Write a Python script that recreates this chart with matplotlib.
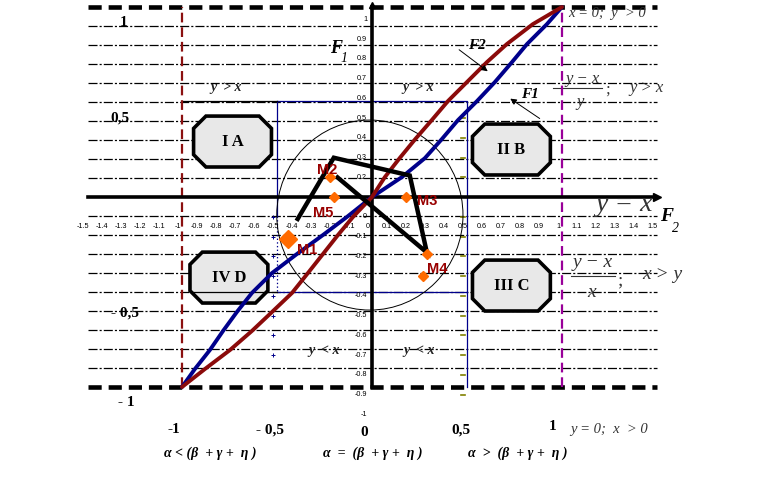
import matplotlib.pyplot as plt
from matplotlib.patches import Polygon, Ellipse

# ---- data (main scale: -1..1 between the dashed frames)
f1_x = [-1.0, -0.932, -0.853, -0.784, -0.711, -0.632, -0.526, -0.395, -0.258, -0.132, 0.0,
        0.158, 0.279, 0.368, 0.453, 0.553, 0.647, 0.737, 0.816, 0.921, 1.0]
f1_y = [-1.0, -0.905, -0.805, -0.705, -0.605, -0.505, -0.4, -0.3, -0.2, -0.105, 0.0,
        0.105, 0.205, 0.305, 0.405, 0.505, 0.605, 0.71, 0.805, 0.91, 1.0]
f2_x = [-1.0, -0.879, -0.747, -0.632, -0.526, -0.421, -0.337, -0.258, -0.179, -0.1, 0.0,
        0.068, 0.146, 0.228, 0.315, 0.4, 0.5, 0.605, 0.71, 0.847, 1.0]
f2_y = [-1.0, -0.905, -0.805, -0.705, -0.605, -0.505, -0.4, -0.3, -0.2, -0.105, 0.0,
        0.105, 0.205, 0.305, 0.405, 0.505, 0.605, 0.71, 0.805, 0.91, 1.0]

# points and polygon in the inner (tick label) scale
m_names = ["M1", "M2", "M5", "M3", "M4", "M4"]
m_u = [-0.42, -0.2, -0.18, 0.2, 0.31, 0.29]
m_v = [-0.11, 0.2, 0.1, 0.1, -0.19, -0.3]
m_size = [9, 5.5, 5.5, 5.5, 5.5, 5.5]
poly_u = [-0.37, -0.18, 0.22, 0.31, -0.16]
poly_v = [-0.01, 0.3, 0.21, -0.18, 0.2]

grid_levels = [-0.9, -0.8, -0.7, -0.6, -0.5, -0.4, -0.3, -0.2, -0.1,
               0.1, 0.2, 0.3, 0.4, 0.5, 0.6, 0.7, 0.8, 0.9]
xtick_vals = [round(-1.5 + 0.1 * i, 1) for i in range(31)]
ytick_vals = [1, 0.9, 0.8, 0.7, 0.6, 0.5, 0.4, 0.3, 0.2, 0, -0.1, -0.2, -0.3,
              -0.4, -0.5, -0.6, -0.7, -0.8, -0.9, -1]
boxes = [("I A", -0.734, 0.292), ("II B", 0.734, 0.25),
         ("IV D", -0.753, -0.424), ("III C", 0.734, -0.466)]

plt.rcParams['lines.scale_dashes'] = False
SERIF = "Liberation Serif"
SANS = "Liberation Sans"
NAVY = "#00008b"


def inner(u, v):
    # inner scale is shifted/stretched slightly against the main one
    return u - 0.021, 1.0395 * v - 0.105


fig = plt.figure(figsize=(7.58, 4.82), dpi=100)
ax = fig.add_axes([0, 0, 1, 1])
ax.set_xlim(-1.958, 2.032)
ax.set_ylim(-1.5, 1.037)
ax.axis("off")

# grid of dash-dot lines
for g in grid_levels:
    ax.plot([-1.495, 1.5], [g, g], color="black", lw=0.9,
            dashes=(6.5, 1.5, 1.5, 1.5), zorder=1)

# thick dashed frame lines
for yy in [1.0, -1.0]:
    ax.plot([-1.495, 1.5], [yy, yy], color="black", lw=3.3, dashes=(9.5, 5), zorder=3)
ax.plot([-1, -1], [-1, 1], color="#8b1010", lw=1.6, dashes=(7, 3.5), zorder=3)
ax.plot([1, 1], [-1, 1], color="#990099", lw=1.6, dashes=(7, 3.5), zorder=3)

# navy rectangle and solid segments
ax.plot([-0.5, 0.5, 0.5], [0.505, 0.505, -1.0], color=NAVY, lw=0.9, zorder=2)
ax.plot([-0.5, 0.5], [-0.5, -0.5], color=NAVY, lw=0.9, zorder=2)
ax.plot([-0.5, -0.5], [0.505, -0.1], color=NAVY, lw=0.9, zorder=2)
ax.plot([-0.5, -0.5], [-0.1, -0.5], color=NAVY, lw=0.9, ls=":", zorder=2)
ax.plot([-1, -0.5], [0.505, 0.505], color="black", lw=0.9, zorder=2)

# boxes
cut = 0.065
for label, cx, cy in boxes:
    w, h = 0.205, 0.134
    pts = [(cx - w + cut, cy + h), (cx + w - cut, cy + h), (cx + w, cy + h - cut),
           (cx + w, cy - h + cut), (cx + w - cut, cy - h), (cx - w + cut, cy - h),
           (cx - w, cy - h + cut), (cx - w, cy + h - cut)]
    ax.add_patch(Polygon(pts, closed=True, fc="#e8e8e8", ec="black", lw=2.6, zorder=4))
    ax.text(cx, cy, label, ha="center", va="center", fontsize=12,
            fontweight="bold", family=SERIF, zorder=5)
ax.plot([-0.947, -0.5], [-0.5, -0.5], color="black", lw=0.9, zorder=5)

# small marks along the inner +-0.5 verticals
for i in range(15):
    v = 0.5 - 0.1 * i
    xx, yy = inner(0.5, v)
    ax.plot([xx - 0.012, xx + 0.012], [yy, yy], color="#808000", lw=1.2, zorder=2)
for i in range(8):
    v = -0.1 * i
    xx, yy = inner(-0.5, v)
    ax.plot(xx, yy, marker="+", color=NAVY, ms=3, mew=0.7, zorder=2)

# circle
cx0, cy0 = inner(0, 0)
ax.add_patch(Ellipse((cx0 + 0.01, cy0 + 0.01), 0.98, 1.0, fill=False,
                     ec="black", lw=0.7, zorder=2))

# axes
ax.plot([-1.495, 1.49], [0, 0], color="black", lw=2.6, zorder=3)
ax.plot(1.5, 0, marker=">", color="black", ms=6, zorder=3)
ax.plot([0, 0], [-1.0, 1.0], color="black", lw=2.6, zorder=3)
ax.plot(0, 1.01, marker="^", color="black", ms=5, zorder=3)

# tick labels of the inner scale
for v in xtick_vals:
    xx, _ = inner(v, 0)
    ax.text(xx, -0.153, f"{v:g}", ha="center", va="center", fontsize=5.2,
            family=SANS, zorder=6)
for v in ytick_vals:
    _, yy = inner(0, v)
    ax.text(-0.026, yy, f"{v:g}", ha="right", va="center", fontsize=5.2,
            family=SANS, zorder=6)

# curves
ax.plot(f1_x, f1_y, color=NAVY, lw=2.8, solid_capstyle="round",
        solid_joinstyle="round", zorder=6)
ax.plot(f2_x, f2_y, color="#8b0a0a", lw=2.8, solid_capstyle="round",
        solid_joinstyle="round", zorder=6)

# polygon and points
pts_inner = [inner(u, v) for u, v in zip(poly_u, poly_v)]
ax.plot([p[0] for p in pts_inner], [p[1] for p in pts_inner], color="black",
        lw=3.2, solid_joinstyle="miter", zorder=7)
for name, u, v, s in zip(m_names, m_u, m_v, m_size):
    xx, yy = inner(u, v)
    ax.plot(xx, yy, marker="D", color="#ff6a00", ms=s, mec="#ff6a00", zorder=8)
m_text = {"M1": (-0.34, -0.28), "M2": (-0.236, 0.142), "M5": (-0.258, -0.084),
          "M3": (0.29, -0.02), "M4": (0.342, -0.38)}
for name, (tx, ty) in m_text.items():
    ax.text(tx, ty, name, ha="center", va="center", fontsize=10.5,
            fontweight="bold", color="#990000", family=SANS, zorder=9)

# F labels and arrows
ax.text(-0.189, 0.784, "F", fontsize=13, fontweight="bold", style="italic",
        family=SERIF, ha="center", va="center")
ax.text(-0.147, 0.73, "1", fontsize=10, style="italic", family=SERIF,
        ha="center", va="center")
ax.text(0.553, 0.795, "F2", fontsize=11, fontweight="bold", style="italic",
        family=SERIF, ha="center", va="center")
ax.annotate("", xy=(0.621, 0.653), xytext=(0.447, 0.784),
            arrowprops=dict(arrowstyle="-|>", color="black", lw=0.7,
                            mutation_scale=9), zorder=9)
ax.text(0.83, 0.542, "F1", fontsize=11, fontweight="bold", style="italic",
        family=SERIF, ha="center", va="center")
ax.annotate("", xy=(0.716, 0.526), xytext=(0.895, 0.405),
            arrowprops=dict(arrowstyle="-|>", color="black", lw=0.7,
                            mutation_scale=9), zorder=9)

# region captions
for tx, ty, s in [(-0.768, 0.579, "y  > x"), (0.242, 0.579, "y  > x"),
                  (-0.253, -0.81, "y  < x"), (0.247, -0.81, "y  < x")]:
    ax.text(tx, ty, s, fontsize=10, fontweight="bold", style="italic",
            family=SERIF, color="#222222", ha="center", va="center")

# outer labels
for tx, ty, s in [(-1.305, 0.921, "1"), (-1.326, 0.416, "0,5"),
                  (-1.3, -0.61, "- 0,5"), (-1.295, -1.084, "- 1")]:
    ax.text(tx, ty, s, fontsize=11, fontweight="bold", family=SERIF,
            ha="center", va="center")
for tx, ty, s in [(-1.042, -1.226, "-1"), (-0.537, -1.226, "- 0,5"),
                  (-0.042, -1.237, "0"), (0.468, -1.226, "0,5"), (0.953, -1.21, "1")]:
    ax.text(tx, ty, s, fontsize=11, fontweight="bold", family=SERIF,
            ha="center", va="center")
ax.text(1.042, -1.226, "y = 0;  x  > 0", fontsize=10.5, style="italic",
        family=SERIF, color="#333333", ha="left", va="center")
ax.text(1.032, 0.968, "x = 0;  y  > 0", fontsize=10.5, style="italic",
        family=SERIF, color="#333333", ha="left", va="center")

for tx, s in [(-0.853, "α < (β  + γ +  η )"), (0.005, "α  =  (β  + γ +  η )"),
              (0.768, "α  >  (β  + γ +  η )")]:
    ax.text(tx, -1.347, s, fontsize=10, fontweight="bold", style="italic",
            family=SERIF, ha="center", va="center")

# fractions on the right
ax.text(1.11, 0.62, "y − x", fontsize=12, style="italic", family=SERIF,
        color="#333333", ha="center", va="center")
ax.plot([0.953, 1.21], [0.574, 0.574], color="#333333", lw=0.8)
ax.text(1.095, 0.5, "y", fontsize=12, style="italic", family=SERIF,
        color="#333333", ha="center", va="center")
ax.text(1.237, 0.565, ";", fontsize=12, family=SERIF, color="#333333",
        ha="center", va="center")
ax.text(1.447, 0.574, "y > x", fontsize=12, style="italic", family=SERIF,
        color="#333333", ha="center", va="center")

ax.text(1.163, -0.345, "y − x", fontsize=14, style="italic", family=SERIF,
        color="#333333", ha="center", va="center")
ax.plot([1.047, 1.279], [-0.416, -0.416], color="#333333", lw=0.8)
ax.text(1.158, -0.505, "x", fontsize=14, style="italic", family=SERIF,
        color="#333333", ha="center", va="center")
ax.text(1.305, -0.44, ";", fontsize=14, family=SERIF, color="#333333",
        ha="center", va="center")
ax.text(1.526, -0.41, "x > y", fontsize=14, style="italic", family=SERIF,
        color="#333333", ha="center", va="center")

ax.text(1.326, -0.04, "y = x", fontsize=20, style="italic", family=SERIF,
        color="#333333", ha="center", va="center")
ax.text(1.55, -0.105, "F", fontsize=14, fontweight="bold", style="italic",
        family=SERIF, ha="center", va="center")
ax.text(1.6, -0.165, "2", fontsize=10, style="italic", family=SERIF,
        ha="center", va="center")

fig.savefig("out.png", dpi=100)
